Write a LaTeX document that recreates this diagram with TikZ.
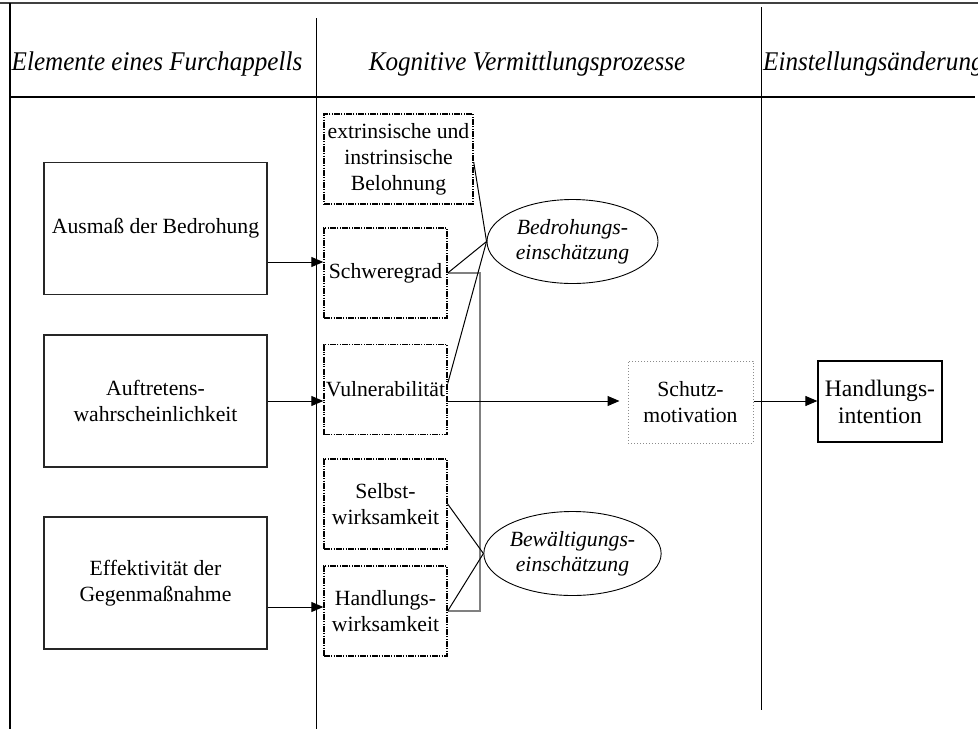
\documentclass[tikz,border=0pt]{standalone}
\usepackage{fontspec}
\setmainfont{Liberation Serif}
\usetikzlibrary{arrows.meta,shapes.geometric}
\begin{document}
\begin{tikzpicture}[x=1pt,y=-1pt,
  body/.style={font=\fontsize{21.7}{26}\selectfont, align=center},
  leftbox/.style={body, draw=black!85, line width=1.2pt, minimum width=223pt, minimum height=132pt, inner sep=0pt},
  midbox/.style={body, draw=black, line width=1.4pt, dash pattern=on 6pt off 1.2pt on 1.2pt off 1.2pt on 1.2pt off 1.2pt, minimum width=123pt, minimum height=90pt, inner sep=0pt},
  oval/.style={font=\fontsize{21.7}{25}\selectfont\itshape, align=center, ellipse, draw, line width=0.9pt, minimum width=171pt, minimum height=84pt, inner sep=0pt},
  head/.style={font=\fontsize{27}{32}\selectfont\itshape, inner sep=0pt},
  arr/.style={-{Triangle[length=12pt,width=10pt]}, line width=1pt},
  link/.style={line width=1pt},
  bracketline/.style={draw=black!50, line width=2pt},
]
\clip (0,0) rectangle (978,729);

% frame and column rules
\draw[line width=2.5pt, black!75] (0,3) -- (978,3);
\draw[line width=2pt] (9.5,3) -- (9.5,729);
\draw[line width=1pt] (316,18) -- (316,729);
\draw[line width=1pt] (761,7) -- (761,710);
\draw[line width=1.5pt] (9.5,97) -- (975,97);

% column headings
\node[head, anchor=base] (h1) at (157,70) {\scalebox{0.93}[1]{Elemente eines Furchappells}};
\node[head, anchor=base] (h2) at (527,70) {\scalebox{0.93}[1]{Kognitive Vermittlungsprozesse}};
\node[head, anchor=base west] (h3) at (763,70) {\scalebox{0.93}[1]{Einstellungsänderung}};

% elements of the appeal
\node[leftbox] (b1) at (155.5,228.5) {Ausmaß der Bedrohung};
\node[leftbox] (b2) at (155.5,401) {Auftretens-\\wahrscheinlichkeit};
\node[leftbox] (b3) at (155.5,583) {Effektivität der\\Gegenmaßnahme};

% mediating processes
\node[midbox, minimum width=149pt] (bel) at (398.5,159) {extrinsische und\\instrinsische\\Belohnung};
\node[midbox] (sch) at (385.5,273) {Schweregrad};
\node[midbox] (vul) at (385.5,389.5) {Vulnerabilität};
\node[midbox] (slb) at (385.5,504) {Selbst-\\wirksamkeit};
\node[midbox] (hw) at (385.5,611) {Handlungs-\\wirksamkeit};

\node[oval] (bed) at (572.5,241.5) {Bedrohungs-\\einschätzung};
\node[oval] (bew) at (572.5,553.5) {Bewältigungs-\\einschätzung};

\node[body, draw=black!45, dotted, line width=1pt, minimum width=125pt, minimum height=82pt, inner sep=0pt] (sm) at (690.5,402) {Schutz-\\motivation};

% attitude change
\node[draw, line width=1.2pt, minimum width=124pt, minimum height=81pt, inner sep=0pt, align=center, font=\fontsize{23.6}{27}\selectfont] (hi) at (880,401.5) {Handlungs-\\intention};

% arrow heights
\coordinate (r1) at (0,262);
\coordinate (r2) at (0,401);
\coordinate (r3) at (0,607);
\coordinate (brx) at (479.5,0);

\draw[bracketline] (sch.east) -- (sch.east -| brx) -- (hw.east -| brx) -- (hw.east);

\draw[arr] (b1.east |- r1) -- (sch.west |- r1);
\draw[arr] (b2.east |- r2) -- (vul.west |- r2);
\draw[arr] (b3.east |- r3) -- (hw.west |- r3);
\draw[arr, shorten >=8pt] (vul.east |- r2) -- (sm.west |- r2);
\draw[arr] (sm.east |- r2) -- (hi.west |- r2);

\draw[link] ([yshift=-3pt]bel.east) -- (bed.west);
\draw[link] (sch.east) -- (bed.west);
\draw[link] ([yshift=6pt]vul.east) -- (bed.west);
\draw[link] (slb.east) -- (bew.west);
\draw[link] (hw.east) -- (bew.west);
\end{tikzpicture}
\end{document}
